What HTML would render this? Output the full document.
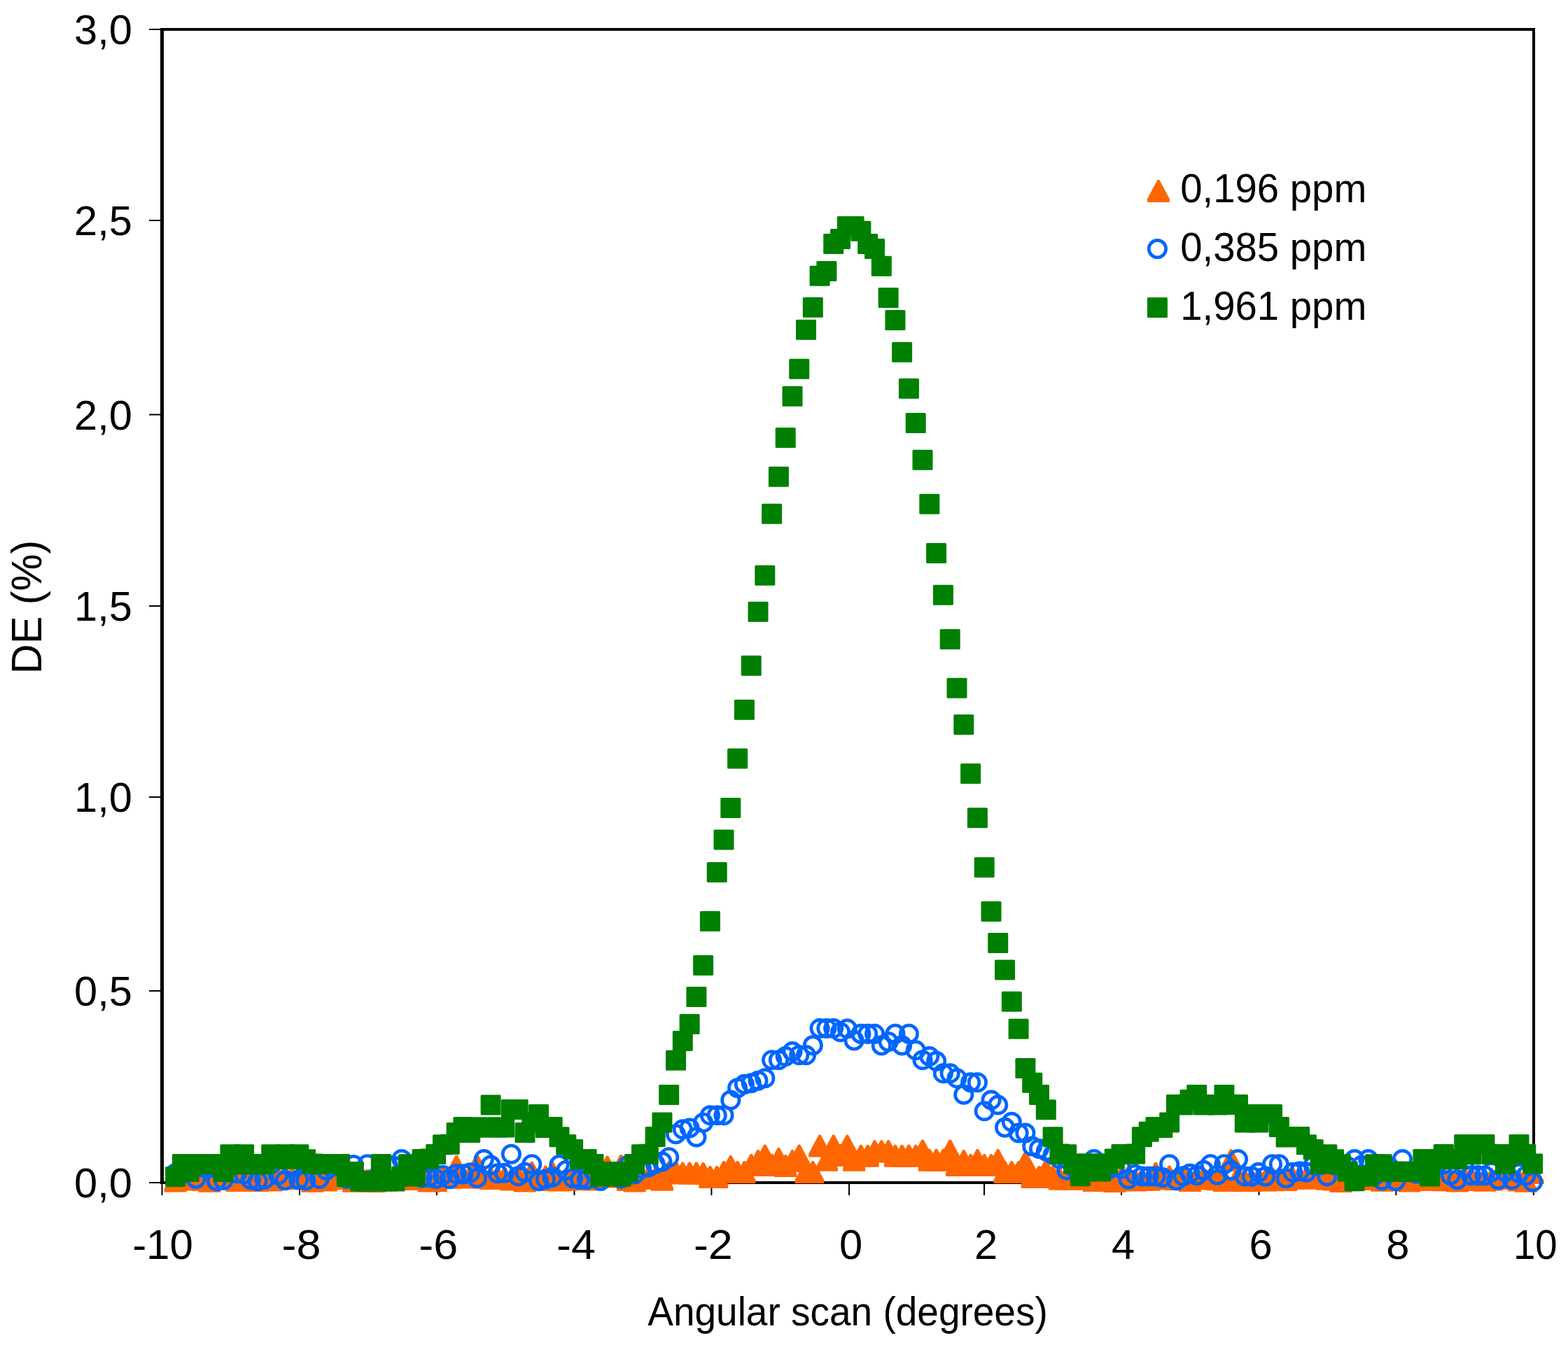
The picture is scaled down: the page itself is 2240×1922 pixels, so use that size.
<!DOCTYPE html>
<html><head><meta charset="utf-8"><title>DE vs angular scan</title>
<style>html,body{margin:0;padding:0;background:#fff;}svg{display:block;}</style></head>
<body>
<svg width="2240" height="1922" viewBox="0 0 2240 1922">
<rect width="2240" height="1922" fill="#fff"/>
<g fill="#000">
<rect x="229" y="40" width="5" height="1652"/>
<rect x="229" y="40" width="1964" height="4"/>
<rect x="2189" y="40" width="4" height="1652"/>
<rect x="229" y="1688" width="1964" height="4"/>
<rect x="213" y="1689.0" width="17" height="2"/>
<rect x="213" y="1415.0" width="17" height="2"/>
<rect x="213" y="1138.0" width="17" height="2"/>
<rect x="213" y="865.0" width="17" height="2"/>
<rect x="213" y="591.5" width="17" height="2"/>
<rect x="213" y="314.0" width="17" height="2"/>
<rect x="213" y="41.0" width="17" height="2"/>
<rect x="230.5" y="1690" width="2" height="18"/>
<rect x="427.0" y="1690" width="2" height="18"/>
<rect x="622.8" y="1690" width="2" height="18"/>
<rect x="819.5" y="1690" width="2" height="18"/>
<rect x="1015.4" y="1690" width="2" height="18"/>
<rect x="1212.0" y="1690" width="2" height="18"/>
<rect x="1405.0" y="1690" width="2" height="18"/>
<rect x="1601.0" y="1690" width="2" height="18"/>
<rect x="1797.5" y="1690" width="2" height="18"/>
<rect x="1993.4" y="1690" width="2" height="18"/>
<rect x="2189.8" y="1690" width="2" height="18"/>
</g>
<g fill="#FF6600"><path d="M249.2 1671.5H252.0L266.6 1698.8V1703.5H234.6V1698.8Z"/><path d="M259.0 1669.1H261.8L276.4 1696.4V1701.1H244.4V1696.4Z"/><path d="M268.8 1669.4H271.6L286.2 1696.7V1701.4H254.2V1696.7Z"/><path d="M278.6 1667.1H281.4L296.0 1694.4V1699.1H264.0V1694.4Z"/><path d="M288.4 1669.9H291.2L305.8 1697.2V1701.9H273.8V1697.2Z"/><path d="M298.2 1671.8H301.0L315.6 1699.1V1703.8H283.6V1699.1Z"/><path d="M307.9 1666.1H310.7L325.3 1693.4V1698.1H293.3V1693.4Z"/><path d="M317.7 1665.4H320.5L335.1 1692.7V1697.4H303.1V1692.7Z"/><path d="M327.5 1665.2H330.3L344.9 1692.5V1697.2H312.9V1692.5Z"/><path d="M337.3 1670.9H340.1L354.7 1698.2V1702.9H322.7V1698.2Z"/><path d="M347.1 1668.5H349.9L364.5 1695.8V1700.5H332.5V1695.8Z"/><path d="M356.9 1666.9H359.7L374.3 1694.2V1698.9H342.3V1694.2Z"/><path d="M366.7 1670.9H369.5L384.1 1698.2V1702.9H352.1V1698.2Z"/><path d="M376.5 1666.6H379.3L393.9 1693.9V1698.6H361.9V1693.9Z"/><path d="M386.3 1670.4H389.1L403.7 1697.7V1702.4H371.7V1697.7Z"/><path d="M396.1 1667.7H398.9L413.5 1695.0V1699.7H381.5V1695.0Z"/><path d="M405.9 1665.0H408.7L423.3 1692.3V1697.0H391.3V1692.3Z"/><path d="M415.7 1668.3H418.5L433.1 1695.6V1700.3H401.1V1695.6Z"/><path d="M425.5 1665.5H428.3L442.9 1692.8V1697.5H410.9V1692.8Z"/><path d="M435.3 1666.9H438.1L452.7 1694.2V1698.9H420.7V1694.2Z"/><path d="M445.0 1671.7H447.8L462.4 1699.0V1703.7H430.4V1699.0Z"/><path d="M454.8 1666.7H457.6L472.2 1694.0V1698.7H440.2V1694.0Z"/><path d="M464.6 1670.6H467.4L482.0 1697.9V1702.6H450.0V1697.9Z"/><path d="M474.4 1668.1H477.2L491.8 1695.4V1700.1H459.8V1695.4Z"/><path d="M484.2 1665.9H487.0L501.6 1693.2V1697.9H469.6V1693.2Z"/><path d="M494.0 1667.9H496.8L511.4 1695.2V1699.9H479.4V1695.2Z"/><path d="M503.8 1671.8H506.6L521.2 1699.1V1703.8H489.2V1699.1Z"/><path d="M513.6 1671.2H516.4L531.0 1698.5V1703.2H499.0V1698.5Z"/><path d="M523.4 1671.0H526.2L540.8 1698.3V1703.0H508.8V1698.3Z"/><path d="M533.2 1671.9H536.0L550.6 1699.2V1703.9H518.6V1699.2Z"/><path d="M543.0 1670.4H545.8L560.4 1697.7V1702.4H528.4V1697.7Z"/><path d="M552.8 1665.5H555.6L570.2 1692.8V1697.5H538.2V1692.8Z"/><path d="M562.6 1666.7H565.4L580.0 1694.0V1698.7H548.0V1694.0Z"/><path d="M572.4 1668.2H575.2L589.8 1695.5V1700.2H557.8V1695.5Z"/><path d="M582.1 1669.0H584.9L599.5 1696.3V1701.0H567.5V1696.3Z"/><path d="M591.9 1666.1H594.7L609.3 1693.4V1698.1H577.3V1693.4Z"/><path d="M601.7 1666.7H604.5L619.1 1694.0V1698.7H587.1V1694.0Z"/><path d="M611.5 1671.6H614.3L628.9 1698.9V1703.6H596.9V1698.9Z"/><path d="M621.3 1671.2H624.1L638.7 1698.5V1703.2H606.7V1698.5Z"/><path d="M631.1 1665.7H633.9L648.5 1693.0V1697.7H616.5V1693.0Z"/><path d="M640.9 1666.7H643.7L658.3 1694.0V1698.7H626.3V1694.0Z"/><path d="M650.7 1650.7H653.5L668.1 1678.0V1682.7H636.1V1678.0Z"/><path d="M660.5 1666.2H663.3L677.9 1693.5V1698.2H645.9V1693.5Z"/><path d="M670.3 1666.6H673.1L687.7 1693.9V1698.6H655.7V1693.9Z"/><path d="M680.1 1649.2H682.9L697.5 1676.5V1681.2H665.5V1676.5Z"/><path d="M689.9 1666.4H692.7L707.3 1693.7V1698.4H675.3V1693.7Z"/><path d="M699.7 1668.1H702.5L717.1 1695.4V1700.1H685.1V1695.4Z"/><path d="M709.5 1667.6H712.3L726.9 1694.9V1699.6H694.9V1694.9Z"/><path d="M719.2 1667.5H722.0L736.6 1694.8V1699.5H704.6V1694.8Z"/><path d="M729.0 1669.6H731.8L746.4 1696.9V1701.6H714.4V1696.9Z"/><path d="M738.8 1666.0H741.6L756.2 1693.3V1698.0H724.2V1693.3Z"/><path d="M748.6 1671.4H751.4L766.0 1698.7V1703.4H734.0V1698.7Z"/><path d="M758.4 1659.4H761.2L775.8 1686.7V1691.4H743.8V1686.7Z"/><path d="M768.2 1670.1H771.0L785.6 1697.4V1702.1H753.6V1697.4Z"/><path d="M778.0 1665.5H780.8L795.4 1692.8V1697.5H763.4V1692.8Z"/><path d="M787.8 1659.4H790.6L805.2 1686.7V1691.4H773.2V1686.7Z"/><path d="M797.6 1670.6H800.4L815.0 1697.9V1702.6H783.0V1697.9Z"/><path d="M807.4 1669.8H810.2L824.8 1697.1V1701.8H792.8V1697.1Z"/><path d="M817.2 1667.9H820.0L834.6 1695.2V1699.9H802.6V1695.2Z"/><path d="M827.0 1669.0H829.8L844.4 1696.3V1701.0H812.4V1696.3Z"/><path d="M836.8 1669.1H839.6L854.2 1696.4V1701.1H822.2V1696.4Z"/><path d="M846.6 1669.5H849.4L864.0 1696.8V1701.5H832.0V1696.8Z"/><path d="M856.4 1665.0H859.2L873.8 1692.3V1697.0H841.8V1692.3Z"/><path d="M866.1 1651.4H868.9L883.5 1678.7V1683.4H851.5V1678.7Z"/><path d="M875.9 1665.6H878.7L893.3 1692.9V1697.6H861.3V1692.9Z"/><path d="M885.7 1650.0H888.5L903.1 1677.3V1682.0H871.1V1677.3Z"/><path d="M895.5 1669.9H898.3L912.9 1697.2V1701.9H880.9V1697.2Z"/><path d="M905.3 1671.4H908.1L922.7 1698.7V1703.4H890.7V1698.7Z"/><path d="M915.1 1667.1H917.9L932.5 1694.4V1699.1H900.5V1694.4Z"/><path d="M924.9 1666.2H927.7L942.3 1693.5V1698.2H910.3V1693.5Z"/><path d="M934.7 1668.1H937.5L952.1 1695.4V1700.1H920.1V1695.4Z"/><path d="M944.5 1669.7H947.3L961.9 1697.0V1701.7H929.9V1697.0Z"/><path d="M954.3 1659.0H957.1L971.7 1686.3V1691.0H939.7V1686.3Z"/><path d="M964.1 1659.0H966.9L981.5 1686.3V1691.0H949.5V1686.3Z"/><path d="M973.9 1660.6H976.7L991.3 1687.9V1692.6H959.3V1687.9Z"/><path d="M983.7 1660.6H986.5L1001.1 1687.9V1692.6H969.1V1687.9Z"/><path d="M993.5 1660.6H996.3L1010.9 1687.9V1692.6H978.9V1687.9Z"/><path d="M1003.2 1661.0H1006.0L1020.6 1688.3V1693.0H988.6V1688.3Z"/><path d="M1013.0 1666.0H1015.8L1030.4 1693.3V1698.0H998.4V1693.3Z"/><path d="M1022.8 1666.0H1025.6L1040.2 1693.3V1698.0H1008.2V1693.3Z"/><path d="M1032.6 1659.0H1035.4L1050.0 1686.3V1691.0H1018.0V1686.3Z"/><path d="M1042.4 1651.0H1045.2L1059.8 1678.3V1683.0H1027.8V1678.3Z"/><path d="M1052.2 1659.0H1055.0L1069.6 1686.3V1691.0H1037.6V1686.3Z"/><path d="M1062.0 1659.0H1064.8L1079.4 1686.3V1691.0H1047.4V1686.3Z"/><path d="M1071.8 1649.0H1074.6L1089.2 1676.3V1681.0H1057.2V1676.3Z"/><path d="M1081.6 1643.0H1084.4L1099.0 1670.3V1675.0H1067.0V1670.3Z"/><path d="M1091.4 1635.4H1094.2L1108.8 1662.7V1667.4H1076.8V1662.7Z"/><path d="M1101.2 1649.0H1104.0L1118.6 1676.3V1681.0H1086.6V1676.3Z"/><path d="M1111.0 1640.0H1113.8L1128.4 1667.3V1672.0H1096.4V1667.3Z"/><path d="M1120.8 1650.0H1123.6L1138.2 1677.3V1682.0H1106.2V1677.3Z"/><path d="M1130.6 1643.0H1133.4L1148.0 1670.3V1675.0H1116.0V1670.3Z"/><path d="M1140.3 1635.4H1143.1L1157.7 1662.7V1667.4H1125.7V1662.7Z"/><path d="M1150.1 1659.0H1152.9L1167.5 1686.3V1691.0H1135.5V1686.3Z"/><path d="M1159.9 1659.0H1162.7L1177.3 1686.3V1691.0H1145.3V1686.3Z"/><path d="M1169.7 1621.5H1172.5L1187.1 1648.8V1653.5H1155.1V1648.8Z"/><path d="M1179.5 1641.8H1182.3L1196.9 1669.1V1673.8H1164.9V1669.1Z"/><path d="M1189.3 1621.5H1192.1L1206.7 1648.8V1653.5H1174.7V1648.8Z"/><path d="M1199.1 1635.0H1201.9L1216.5 1662.3V1667.0H1184.5V1662.3Z"/><path d="M1208.9 1621.5H1211.7L1226.3 1648.8V1653.5H1194.3V1648.8Z"/><path d="M1218.7 1641.8H1221.5L1236.1 1669.1V1673.8H1204.1V1669.1Z"/><path d="M1228.5 1635.8H1231.3L1245.9 1663.1V1667.8H1213.9V1663.1Z"/><path d="M1238.3 1635.8H1241.1L1255.7 1663.1V1667.8H1223.7V1663.1Z"/><path d="M1248.1 1629.2H1250.9L1265.5 1656.5V1661.2H1233.5V1656.5Z"/><path d="M1257.9 1629.2H1260.7L1275.3 1656.5V1661.2H1243.3V1656.5Z"/><path d="M1267.7 1629.2H1270.5L1285.1 1656.5V1661.2H1253.1V1656.5Z"/><path d="M1277.5 1635.8H1280.3L1294.9 1663.1V1667.8H1262.9V1663.1Z"/><path d="M1287.2 1635.8H1290.0L1304.6 1663.1V1667.8H1272.6V1663.1Z"/><path d="M1297.0 1635.4H1299.8L1314.4 1662.7V1667.4H1282.4V1662.7Z"/><path d="M1306.8 1635.8H1309.6L1324.2 1663.1V1667.8H1292.2V1663.1Z"/><path d="M1316.6 1628.5H1319.4L1334.0 1655.8V1660.5H1302.0V1655.8Z"/><path d="M1326.4 1641.8H1329.2L1343.8 1669.1V1673.8H1311.8V1669.1Z"/><path d="M1336.2 1641.8H1339.0L1353.6 1669.1V1673.8H1321.6V1669.1Z"/><path d="M1346.0 1641.8H1348.8L1363.4 1669.1V1673.8H1331.4V1669.1Z"/><path d="M1355.8 1628.5H1358.6L1373.2 1655.8V1660.5H1341.2V1655.8Z"/><path d="M1365.6 1649.0H1368.4L1383.0 1676.3V1681.0H1351.0V1676.3Z"/><path d="M1375.4 1643.0H1378.2L1392.8 1670.3V1675.0H1360.8V1670.3Z"/><path d="M1385.2 1649.0H1388.0L1402.6 1676.3V1681.0H1370.6V1676.3Z"/><path d="M1395.0 1642.0H1397.8L1412.4 1669.3V1674.0H1380.4V1669.3Z"/><path d="M1404.8 1649.0H1407.6L1422.2 1676.3V1681.0H1390.2V1676.3Z"/><path d="M1414.6 1649.0H1417.4L1432.0 1676.3V1681.0H1400.0V1676.3Z"/><path d="M1424.3 1642.0H1427.1L1441.7 1669.3V1674.0H1409.7V1669.3Z"/><path d="M1434.1 1659.0H1436.9L1451.5 1686.3V1691.0H1419.5V1686.3Z"/><path d="M1443.9 1659.0H1446.7L1461.3 1686.3V1691.0H1429.3V1686.3Z"/><path d="M1453.7 1659.0H1456.5L1471.1 1686.3V1691.0H1439.1V1686.3Z"/><path d="M1463.5 1645.0H1466.3L1480.9 1672.3V1677.0H1448.9V1672.3Z"/><path d="M1473.3 1666.0H1476.1L1490.7 1693.3V1698.0H1458.7V1693.3Z"/><path d="M1483.1 1666.0H1485.9L1500.5 1693.3V1698.0H1468.5V1693.3Z"/><path d="M1492.9 1656.5H1495.7L1510.3 1683.8V1688.5H1478.3V1683.8Z"/><path d="M1502.7 1665.7H1505.5L1520.1 1693.0V1697.7H1488.1V1693.0Z"/><path d="M1512.5 1668.6H1515.3L1529.9 1695.9V1700.6H1497.9V1695.9Z"/><path d="M1522.3 1668.7H1525.1L1539.7 1696.0V1700.7H1507.7V1696.0Z"/><path d="M1532.1 1667.9H1534.9L1549.5 1695.2V1699.9H1517.5V1695.2Z"/><path d="M1541.9 1666.4H1544.7L1559.3 1693.7V1698.4H1527.3V1693.7Z"/><path d="M1551.7 1668.7H1554.5L1569.1 1696.0V1700.7H1537.1V1696.0Z"/><path d="M1561.4 1671.0H1564.2L1578.8 1698.3V1703.0H1546.8V1698.3Z"/><path d="M1571.2 1670.7H1574.0L1588.6 1698.0V1702.7H1556.6V1698.0Z"/><path d="M1581.0 1667.2H1583.8L1598.4 1694.5V1699.2H1566.4V1694.5Z"/><path d="M1590.8 1672.0H1593.6L1608.2 1699.3V1704.0H1576.2V1699.3Z"/><path d="M1600.6 1666.7H1603.4L1618.0 1694.0V1698.7H1586.0V1694.0Z"/><path d="M1610.4 1665.7H1613.2L1627.8 1693.0V1697.7H1595.8V1693.0Z"/><path d="M1620.2 1670.5H1623.0L1637.6 1697.8V1702.5H1605.6V1697.8Z"/><path d="M1630.0 1669.8H1632.8L1647.4 1697.1V1701.8H1615.4V1697.1Z"/><path d="M1639.8 1669.8H1642.6L1657.2 1697.1V1701.8H1625.2V1697.1Z"/><path d="M1649.6 1660.8H1652.4L1667.0 1688.1V1692.8H1635.0V1688.1Z"/><path d="M1659.4 1668.5H1662.2L1676.8 1695.8V1700.5H1644.8V1695.8Z"/><path d="M1669.2 1665.5H1672.0L1686.6 1692.8V1697.5H1654.6V1692.8Z"/><path d="M1679.0 1668.9H1681.8L1696.4 1696.2V1700.9H1664.4V1696.2Z"/><path d="M1688.8 1666.0H1691.6L1706.2 1693.3V1698.0H1674.2V1693.3Z"/><path d="M1698.5 1670.9H1701.3L1715.9 1698.2V1702.9H1683.9V1698.2Z"/><path d="M1708.3 1665.7H1711.1L1725.7 1693.0V1697.7H1693.7V1693.0Z"/><path d="M1718.1 1668.2H1720.9L1735.5 1695.5V1700.2H1703.5V1695.5Z"/><path d="M1727.9 1668.3H1730.7L1745.3 1695.6V1700.3H1713.3V1695.6Z"/><path d="M1737.7 1669.2H1740.5L1755.1 1696.5V1701.2H1723.1V1696.5Z"/><path d="M1747.5 1670.9H1750.3L1764.9 1698.2V1702.9H1732.9V1698.2Z"/><path d="M1757.3 1642.0H1760.1L1774.7 1669.3V1674.0H1742.7V1669.3Z"/><path d="M1767.1 1666.2H1769.9L1784.5 1693.5V1698.2H1752.5V1693.5Z"/><path d="M1776.9 1671.3H1779.7L1794.3 1698.6V1703.3H1762.3V1698.6Z"/><path d="M1786.7 1671.0H1789.5L1804.1 1698.3V1703.0H1772.1V1698.3Z"/><path d="M1796.5 1669.2H1799.3L1813.9 1696.5V1701.2H1781.9V1696.5Z"/><path d="M1806.3 1670.6H1809.1L1823.7 1697.9V1702.6H1791.7V1697.9Z"/><path d="M1816.1 1670.2H1818.9L1833.5 1697.5V1702.2H1801.5V1697.5Z"/><path d="M1825.9 1667.8H1828.7L1843.3 1695.1V1699.8H1811.3V1695.1Z"/><path d="M1835.7 1669.9H1838.5L1853.1 1697.2V1701.9H1821.1V1697.2Z"/><path d="M1845.4 1667.8H1848.2L1862.8 1695.1V1699.8H1830.8V1695.1Z"/><path d="M1855.2 1667.4H1858.0L1872.6 1694.7V1699.4H1840.6V1694.7Z"/><path d="M1865.0 1667.5H1867.8L1882.4 1694.8V1699.5H1850.4V1694.8Z"/><path d="M1874.8 1666.6H1877.6L1892.2 1693.9V1698.6H1860.2V1693.9Z"/><path d="M1884.6 1667.4H1887.4L1902.0 1694.7V1699.4H1870.0V1694.7Z"/><path d="M1894.4 1668.7H1897.2L1911.8 1696.0V1700.7H1879.8V1696.0Z"/><path d="M1904.2 1669.5H1907.0L1921.6 1696.8V1701.5H1889.6V1696.8Z"/><path d="M1914.0 1671.9H1916.8L1931.4 1699.2V1703.9H1899.4V1699.2Z"/><path d="M1923.8 1670.2H1926.6L1941.2 1697.5V1702.2H1909.2V1697.5Z"/><path d="M1933.6 1665.4H1936.4L1951.0 1692.7V1697.4H1919.0V1692.7Z"/><path d="M1943.4 1665.7H1946.2L1960.8 1693.0V1697.7H1928.8V1693.0Z"/><path d="M1953.2 1668.9H1956.0L1970.6 1696.2V1700.9H1938.6V1696.2Z"/><path d="M1963.0 1669.0H1965.8L1980.4 1696.3V1701.0H1948.4V1696.3Z"/><path d="M1972.8 1670.7H1975.6L1990.2 1698.0V1702.7H1958.2V1698.0Z"/><path d="M1982.5 1670.3H1985.3L1999.9 1697.6V1702.3H1967.9V1697.6Z"/><path d="M1992.3 1666.1H1995.1L2009.7 1693.4V1698.1H1977.7V1693.4Z"/><path d="M2002.1 1668.5H2004.9L2019.5 1695.8V1700.5H1987.5V1695.8Z"/><path d="M2011.9 1671.6H2014.7L2029.3 1698.9V1703.6H1997.3V1698.9Z"/><path d="M2021.7 1669.2H2024.5L2039.1 1696.5V1701.2H2007.1V1696.5Z"/><path d="M2031.5 1669.6H2034.3L2048.9 1696.9V1701.6H2016.9V1696.9Z"/><path d="M2041.3 1670.0H2044.1L2058.7 1697.3V1702.0H2026.7V1697.3Z"/><path d="M2051.1 1666.7H2053.9L2068.5 1694.0V1698.7H2036.5V1694.0Z"/><path d="M2060.9 1670.3H2063.7L2078.3 1697.6V1702.3H2046.3V1697.6Z"/><path d="M2070.7 1670.2H2073.5L2088.1 1697.5V1702.2H2056.1V1697.5Z"/><path d="M2080.5 1671.6H2083.3L2097.9 1698.9V1703.6H2065.9V1698.9Z"/><path d="M2090.3 1668.0H2093.1L2107.7 1695.3V1700.0H2075.7V1695.3Z"/><path d="M2100.1 1666.7H2102.9L2117.5 1694.0V1698.7H2085.5V1694.0Z"/><path d="M2109.9 1670.1H2112.7L2127.3 1697.4V1702.1H2095.3V1697.4Z"/><path d="M2119.6 1670.7H2122.4L2137.0 1698.0V1702.7H2105.0V1698.0Z"/><path d="M2129.4 1669.4H2132.2L2146.8 1696.7V1701.4H2114.8V1696.7Z"/><path d="M2139.2 1665.4H2142.0L2156.6 1692.7V1697.4H2124.6V1692.7Z"/><path d="M2149.0 1668.1H2151.8L2166.4 1695.4V1700.1H2134.4V1695.4Z"/><path d="M2158.8 1666.8H2161.6L2176.2 1694.1V1698.8H2144.2V1694.1Z"/><path d="M2168.6 1670.4H2171.4L2186.0 1697.7V1702.4H2154.0V1697.7Z"/><path d="M2178.4 1671.7H2181.2L2195.8 1699.0V1703.7H2163.8V1699.0Z"/><path d="M2188.2 1660.0H2191.0L2205.6 1687.3V1692.0H2173.6V1687.3Z"/></g>
<g fill="none" stroke="#0066FF" stroke-width="4.7"><circle cx="250.6" cy="1676.5" r="12.2"/><circle cx="260.4" cy="1677.0" r="12.2"/><circle cx="270.2" cy="1666.1" r="12.2"/><circle cx="280.0" cy="1684.4" r="12.2"/><circle cx="289.8" cy="1667.9" r="12.2"/><circle cx="299.6" cy="1668.9" r="12.2"/><circle cx="309.3" cy="1687.6" r="12.2"/><circle cx="319.1" cy="1686.5" r="12.2"/><circle cx="328.9" cy="1664.5" r="12.2"/><circle cx="338.7" cy="1676.6" r="12.2"/><circle cx="348.5" cy="1677.8" r="12.2"/><circle cx="358.3" cy="1685.8" r="12.2"/><circle cx="368.1" cy="1687.8" r="12.2"/><circle cx="377.9" cy="1685.3" r="12.2"/><circle cx="387.7" cy="1663.4" r="12.2"/><circle cx="397.5" cy="1679.1" r="12.2"/><circle cx="407.3" cy="1686.8" r="12.2"/><circle cx="417.1" cy="1668.5" r="12.2"/><circle cx="426.9" cy="1685.6" r="12.2"/><circle cx="436.7" cy="1686.8" r="12.2"/><circle cx="446.4" cy="1665.0" r="12.2"/><circle cx="456.2" cy="1684.5" r="12.2"/><circle cx="466.0" cy="1672.4" r="12.2"/><circle cx="475.8" cy="1666.4" r="12.2"/><circle cx="485.6" cy="1667.4" r="12.2"/><circle cx="495.4" cy="1684.5" r="12.2"/><circle cx="505.2" cy="1664.6" r="12.2"/><circle cx="515.0" cy="1685.2" r="12.2"/><circle cx="524.8" cy="1663.7" r="12.2"/><circle cx="534.6" cy="1684.4" r="12.2"/><circle cx="544.4" cy="1664.5" r="12.2"/><circle cx="554.2" cy="1664.8" r="12.2"/><circle cx="564.0" cy="1666.5" r="12.2"/><circle cx="573.8" cy="1656.5" r="12.2"/><circle cx="583.5" cy="1679.8" r="12.2"/><circle cx="593.3" cy="1676.8" r="12.2"/><circle cx="603.1" cy="1683.2" r="12.2"/><circle cx="612.9" cy="1682.4" r="12.2"/><circle cx="622.7" cy="1684.5" r="12.2"/><circle cx="632.5" cy="1679.2" r="12.2"/><circle cx="642.3" cy="1684.6" r="12.2"/><circle cx="652.1" cy="1677.6" r="12.2"/><circle cx="661.9" cy="1677.9" r="12.2"/><circle cx="671.7" cy="1675.7" r="12.2"/><circle cx="681.5" cy="1683.5" r="12.2"/><circle cx="691.3" cy="1656.5" r="12.2"/><circle cx="701.1" cy="1665.1" r="12.2"/><circle cx="710.9" cy="1676.8" r="12.2"/><circle cx="720.6" cy="1676.3" r="12.2"/><circle cx="730.4" cy="1649.2" r="12.2"/><circle cx="740.2" cy="1680.8" r="12.2"/><circle cx="750.0" cy="1675.2" r="12.2"/><circle cx="759.8" cy="1663.7" r="12.2"/><circle cx="769.6" cy="1687.6" r="12.2"/><circle cx="779.4" cy="1685.0" r="12.2"/><circle cx="789.2" cy="1682.4" r="12.2"/><circle cx="799.0" cy="1664.4" r="12.2"/><circle cx="808.8" cy="1672.4" r="12.2"/><circle cx="818.6" cy="1683.7" r="12.2"/><circle cx="828.4" cy="1685.4" r="12.2"/><circle cx="838.2" cy="1685.5" r="12.2"/><circle cx="848.0" cy="1674.5" r="12.2"/><circle cx="857.8" cy="1687.5" r="12.2"/><circle cx="867.5" cy="1678.4" r="12.2"/><circle cx="877.3" cy="1679.0" r="12.2"/><circle cx="887.1" cy="1684.1" r="12.2"/><circle cx="896.9" cy="1665.1" r="12.2"/><circle cx="906.7" cy="1678.0" r="12.2"/><circle cx="916.5" cy="1670.0" r="12.2"/><circle cx="926.3" cy="1668.0" r="12.2"/><circle cx="936.1" cy="1663.0" r="12.2"/><circle cx="945.9" cy="1660.0" r="12.2"/><circle cx="955.7" cy="1653.7" r="12.2"/><circle cx="965.5" cy="1620.7" r="12.2"/><circle cx="975.3" cy="1613.7" r="12.2"/><circle cx="985.1" cy="1612.0" r="12.2"/><circle cx="994.9" cy="1625.0" r="12.2"/><circle cx="1004.6" cy="1604.2" r="12.2"/><circle cx="1014.4" cy="1593.8" r="12.2"/><circle cx="1024.2" cy="1593.8" r="12.2"/><circle cx="1034.0" cy="1593.8" r="12.2"/><circle cx="1043.8" cy="1572.0" r="12.2"/><circle cx="1053.6" cy="1554.7" r="12.2"/><circle cx="1063.4" cy="1549.4" r="12.2"/><circle cx="1073.2" cy="1547.7" r="12.2"/><circle cx="1083.0" cy="1544.2" r="12.2"/><circle cx="1092.8" cy="1540.8" r="12.2"/><circle cx="1102.6" cy="1514.7" r="12.2"/><circle cx="1112.4" cy="1514.7" r="12.2"/><circle cx="1122.2" cy="1509.5" r="12.2"/><circle cx="1132.0" cy="1502.5" r="12.2"/><circle cx="1141.7" cy="1507.8" r="12.2"/><circle cx="1151.5" cy="1507.8" r="12.2"/><circle cx="1161.3" cy="1493.9" r="12.2"/><circle cx="1171.1" cy="1469.5" r="12.2"/><circle cx="1180.9" cy="1469.5" r="12.2"/><circle cx="1190.7" cy="1469.5" r="12.2"/><circle cx="1200.5" cy="1474.7" r="12.2"/><circle cx="1210.3" cy="1470.0" r="12.2"/><circle cx="1220.1" cy="1486.9" r="12.2"/><circle cx="1229.9" cy="1477.4" r="12.2"/><circle cx="1239.7" cy="1477.4" r="12.2"/><circle cx="1249.5" cy="1477.4" r="12.2"/><circle cx="1259.3" cy="1493.9" r="12.2"/><circle cx="1269.1" cy="1488.6" r="12.2"/><circle cx="1278.9" cy="1477.4" r="12.2"/><circle cx="1288.6" cy="1493.9" r="12.2"/><circle cx="1298.4" cy="1477.4" r="12.2"/><circle cx="1308.2" cy="1500.8" r="12.2"/><circle cx="1318.0" cy="1514.7" r="12.2"/><circle cx="1327.8" cy="1509.5" r="12.2"/><circle cx="1337.6" cy="1516.4" r="12.2"/><circle cx="1347.4" cy="1533.8" r="12.2"/><circle cx="1357.2" cy="1533.8" r="12.2"/><circle cx="1367.0" cy="1540.8" r="12.2"/><circle cx="1376.8" cy="1564.2" r="12.2"/><circle cx="1386.6" cy="1546.8" r="12.2"/><circle cx="1396.4" cy="1546.8" r="12.2"/><circle cx="1406.2" cy="1587.7" r="12.2"/><circle cx="1416.0" cy="1572.0" r="12.2"/><circle cx="1425.7" cy="1579.0" r="12.2"/><circle cx="1435.5" cy="1611.1" r="12.2"/><circle cx="1445.3" cy="1603.3" r="12.2"/><circle cx="1455.1" cy="1619.0" r="12.2"/><circle cx="1464.9" cy="1619.0" r="12.2"/><circle cx="1474.7" cy="1638.0" r="12.2"/><circle cx="1484.5" cy="1641.5" r="12.2"/><circle cx="1494.3" cy="1645.0" r="12.2"/><circle cx="1504.1" cy="1650.0" r="12.2"/><circle cx="1513.9" cy="1656.0" r="12.2"/><circle cx="1523.7" cy="1672.0" r="12.2"/><circle cx="1533.5" cy="1668.0" r="12.2"/><circle cx="1543.3" cy="1670.0" r="12.2"/><circle cx="1553.1" cy="1672.0" r="12.2"/><circle cx="1562.8" cy="1656.5" r="12.2"/><circle cx="1572.6" cy="1670.0" r="12.2"/><circle cx="1582.4" cy="1672.0" r="12.2"/><circle cx="1592.2" cy="1668.0" r="12.2"/><circle cx="1602.0" cy="1670.0" r="12.2"/><circle cx="1611.8" cy="1685.0" r="12.2"/><circle cx="1621.6" cy="1678.2" r="12.2"/><circle cx="1631.4" cy="1681.0" r="12.2"/><circle cx="1641.2" cy="1681.0" r="12.2"/><circle cx="1651.0" cy="1681.0" r="12.2"/><circle cx="1660.8" cy="1682.6" r="12.2"/><circle cx="1670.6" cy="1663.7" r="12.2"/><circle cx="1680.4" cy="1686.9" r="12.2"/><circle cx="1690.2" cy="1680.7" r="12.2"/><circle cx="1699.9" cy="1677.0" r="12.2"/><circle cx="1709.7" cy="1679.6" r="12.2"/><circle cx="1719.5" cy="1672.4" r="12.2"/><circle cx="1729.3" cy="1663.7" r="12.2"/><circle cx="1739.1" cy="1679.3" r="12.2"/><circle cx="1748.9" cy="1663.7" r="12.2"/><circle cx="1758.7" cy="1672.4" r="12.2"/><circle cx="1768.5" cy="1656.5" r="12.2"/><circle cx="1778.3" cy="1681.0" r="12.2"/><circle cx="1788.1" cy="1681.1" r="12.2"/><circle cx="1797.9" cy="1675.3" r="12.2"/><circle cx="1807.7" cy="1681.1" r="12.2"/><circle cx="1817.5" cy="1663.7" r="12.2"/><circle cx="1827.3" cy="1663.7" r="12.2"/><circle cx="1837.1" cy="1683.8" r="12.2"/><circle cx="1846.8" cy="1675.3" r="12.2"/><circle cx="1856.6" cy="1673.8" r="12.2"/><circle cx="1866.4" cy="1675.1" r="12.2"/><circle cx="1876.2" cy="1665.0" r="12.2"/><circle cx="1886.0" cy="1665.0" r="12.2"/><circle cx="1895.8" cy="1680.7" r="12.2"/><circle cx="1905.6" cy="1665.0" r="12.2"/><circle cx="1915.4" cy="1665.0" r="12.2"/><circle cx="1925.2" cy="1666.7" r="12.2"/><circle cx="1935.0" cy="1656.5" r="12.2"/><circle cx="1944.8" cy="1665.3" r="12.2"/><circle cx="1954.6" cy="1656.5" r="12.2"/><circle cx="1964.4" cy="1679.8" r="12.2"/><circle cx="1974.2" cy="1686.6" r="12.2"/><circle cx="1983.9" cy="1666.6" r="12.2"/><circle cx="1993.7" cy="1687.6" r="12.2"/><circle cx="2003.5" cy="1656.5" r="12.2"/><circle cx="2013.3" cy="1674.4" r="12.2"/><circle cx="2023.1" cy="1677.2" r="12.2"/><circle cx="2032.9" cy="1664.7" r="12.2"/><circle cx="2042.7" cy="1675.7" r="12.2"/><circle cx="2052.5" cy="1663.1" r="12.2"/><circle cx="2062.3" cy="1663.9" r="12.2"/><circle cx="2072.1" cy="1679.4" r="12.2"/><circle cx="2081.9" cy="1685.6" r="12.2"/><circle cx="2091.7" cy="1668.4" r="12.2"/><circle cx="2101.5" cy="1679.8" r="12.2"/><circle cx="2111.3" cy="1679.6" r="12.2"/><circle cx="2121.0" cy="1679.9" r="12.2"/><circle cx="2130.8" cy="1674.7" r="12.2"/><circle cx="2140.6" cy="1685.6" r="12.2"/><circle cx="2150.4" cy="1674.7" r="12.2"/><circle cx="2160.2" cy="1685.8" r="12.2"/><circle cx="2170.0" cy="1676.5" r="12.2"/><circle cx="2179.8" cy="1680.0" r="12.2"/><circle cx="2189.6" cy="1689.0" r="12.2"/></g>
<g fill="#008000"><rect x="236.1" y="1667.1" width="29" height="29" rx="1.5"/><rect x="245.9" y="1649.1" width="29" height="29" rx="1.5"/><rect x="255.7" y="1659.9" width="29" height="29" rx="1.5"/><rect x="265.5" y="1649.0" width="29" height="29" rx="1.5"/><rect x="275.3" y="1649.5" width="29" height="29" rx="1.5"/><rect x="285.1" y="1649.0" width="29" height="29" rx="1.5"/><rect x="294.8" y="1649.5" width="29" height="29" rx="1.5"/><rect x="304.6" y="1659.9" width="29" height="29" rx="1.5"/><rect x="314.4" y="1635.3" width="29" height="29" rx="1.5"/><rect x="324.2" y="1649.5" width="29" height="29" rx="1.5"/><rect x="334.0" y="1635.3" width="29" height="29" rx="1.5"/><rect x="343.8" y="1649.2" width="29" height="29" rx="1.5"/><rect x="353.6" y="1649.2" width="29" height="29" rx="1.5"/><rect x="363.4" y="1649.2" width="29" height="29" rx="1.5"/><rect x="373.2" y="1635.3" width="29" height="29" rx="1.5"/><rect x="383.0" y="1642.0" width="29" height="29" rx="1.5"/><rect x="392.8" y="1635.3" width="29" height="29" rx="1.5"/><rect x="402.6" y="1642.0" width="29" height="29" rx="1.5"/><rect x="412.4" y="1635.3" width="29" height="29" rx="1.5"/><rect x="422.2" y="1642.3" width="29" height="29" rx="1.5"/><rect x="431.9" y="1648.5" width="29" height="29" rx="1.5"/><rect x="441.7" y="1649.1" width="29" height="29" rx="1.5"/><rect x="451.5" y="1649.1" width="29" height="29" rx="1.5"/><rect x="461.3" y="1649.1" width="29" height="29" rx="1.5"/><rect x="471.1" y="1649.1" width="29" height="29" rx="1.5"/><rect x="480.9" y="1666.9" width="29" height="29" rx="1.5"/><rect x="490.7" y="1660.0" width="29" height="29" rx="1.5"/><rect x="500.5" y="1673.5" width="29" height="29" rx="1.5"/><rect x="510.3" y="1673.7" width="29" height="29" rx="1.5"/><rect x="520.1" y="1673.5" width="29" height="29" rx="1.5"/><rect x="529.9" y="1649.1" width="29" height="29" rx="1.5"/><rect x="539.7" y="1673.5" width="29" height="29" rx="1.5"/><rect x="549.5" y="1673.5" width="29" height="29" rx="1.5"/><rect x="559.3" y="1666.5" width="29" height="29" rx="1.5"/><rect x="569.0" y="1649.3" width="29" height="29" rx="1.5"/><rect x="578.8" y="1666.6" width="29" height="29" rx="1.5"/><rect x="588.6" y="1642.0" width="29" height="29" rx="1.5"/><rect x="598.4" y="1641.5" width="29" height="29" rx="1.5"/><rect x="608.2" y="1635.1" width="29" height="29" rx="1.5"/><rect x="618.0" y="1621.3" width="29" height="29" rx="1.5"/><rect x="627.8" y="1620.8" width="29" height="29" rx="1.5"/><rect x="637.6" y="1603.9" width="29" height="29" rx="1.5"/><rect x="647.4" y="1596.1" width="29" height="29" rx="1.5"/><rect x="657.2" y="1604.0" width="29" height="29" rx="1.5"/><rect x="667.0" y="1596.5" width="29" height="29" rx="1.5"/><rect x="676.8" y="1596.5" width="29" height="29" rx="1.5"/><rect x="686.6" y="1564.5" width="29" height="29" rx="1.5"/><rect x="696.4" y="1596.5" width="29" height="29" rx="1.5"/><rect x="706.1" y="1596.5" width="29" height="29" rx="1.5"/><rect x="715.9" y="1571.1" width="29" height="29" rx="1.5"/><rect x="725.7" y="1571.1" width="29" height="29" rx="1.5"/><rect x="735.5" y="1604.1" width="29" height="29" rx="1.5"/><rect x="745.3" y="1589.5" width="29" height="29" rx="1.5"/><rect x="755.1" y="1578.1" width="29" height="29" rx="1.5"/><rect x="764.9" y="1596.9" width="29" height="29" rx="1.5"/><rect x="774.7" y="1596.1" width="29" height="29" rx="1.5"/><rect x="784.5" y="1610.3" width="29" height="29" rx="1.5"/><rect x="794.3" y="1621.1" width="29" height="29" rx="1.5"/><rect x="804.1" y="1628.0" width="29" height="29" rx="1.5"/><rect x="813.9" y="1642.1" width="29" height="29" rx="1.5"/><rect x="823.7" y="1642.0" width="29" height="29" rx="1.5"/><rect x="833.5" y="1649.0" width="29" height="29" rx="1.5"/><rect x="843.3" y="1666.8" width="29" height="29" rx="1.5"/><rect x="853.0" y="1659.9" width="29" height="29" rx="1.5"/><rect x="862.8" y="1659.9" width="29" height="29" rx="1.5"/><rect x="872.6" y="1666.8" width="29" height="29" rx="1.5"/><rect x="882.4" y="1659.9" width="29" height="29" rx="1.5"/><rect x="892.2" y="1649.0" width="29" height="29" rx="1.5"/><rect x="902.0" y="1635.2" width="29" height="29" rx="1.5"/><rect x="911.8" y="1634.8" width="29" height="29" rx="1.5"/><rect x="921.6" y="1610.1" width="29" height="29" rx="1.5"/><rect x="931.4" y="1589.5" width="29" height="29" rx="1.5"/><rect x="941.2" y="1549.9" width="29" height="29" rx="1.5"/><rect x="951.0" y="1500.8" width="29" height="29" rx="1.5"/><rect x="960.8" y="1472.9" width="29" height="29" rx="1.5"/><rect x="970.6" y="1448.9" width="29" height="29" rx="1.5"/><rect x="980.4" y="1410.0" width="29" height="29" rx="1.5"/><rect x="990.1" y="1364.9" width="29" height="29" rx="1.5"/><rect x="999.9" y="1301.9" width="29" height="29" rx="1.5"/><rect x="1009.7" y="1231.9" width="29" height="29" rx="1.5"/><rect x="1019.5" y="1185.6" width="29" height="29" rx="1.5"/><rect x="1029.3" y="1140.0" width="29" height="29" rx="1.5"/><rect x="1039.1" y="1069.5" width="29" height="29" rx="1.5"/><rect x="1048.9" y="999.7" width="29" height="29" rx="1.5"/><rect x="1058.7" y="936.7" width="29" height="29" rx="1.5"/><rect x="1068.5" y="859.8" width="29" height="29" rx="1.5"/><rect x="1078.3" y="807.8" width="29" height="29" rx="1.5"/><rect x="1088.1" y="719.8" width="29" height="29" rx="1.5"/><rect x="1097.9" y="666.8" width="29" height="29" rx="1.5"/><rect x="1107.7" y="611.0" width="29" height="29" rx="1.5"/><rect x="1117.5" y="551.8" width="29" height="29" rx="1.5"/><rect x="1127.2" y="512.7" width="29" height="29" rx="1.5"/><rect x="1137.0" y="456.8" width="29" height="29" rx="1.5"/><rect x="1146.8" y="424.8" width="29" height="29" rx="1.5"/><rect x="1156.6" y="379.8" width="29" height="29" rx="1.5"/><rect x="1166.4" y="373.1" width="29" height="29" rx="1.5"/><rect x="1176.2" y="334.0" width="29" height="29" rx="1.5"/><rect x="1186.0" y="327.0" width="29" height="29" rx="1.5"/><rect x="1195.8" y="309.0" width="29" height="29" rx="1.5"/><rect x="1205.6" y="309.0" width="29" height="29" rx="1.5"/><rect x="1215.4" y="315.8" width="29" height="29" rx="1.5"/><rect x="1225.2" y="334.0" width="29" height="29" rx="1.5"/><rect x="1235.0" y="340.9" width="29" height="29" rx="1.5"/><rect x="1244.8" y="365.8" width="29" height="29" rx="1.5"/><rect x="1254.6" y="411.1" width="29" height="29" rx="1.5"/><rect x="1264.4" y="442.9" width="29" height="29" rx="1.5"/><rect x="1274.1" y="488.8" width="29" height="29" rx="1.5"/><rect x="1283.9" y="540.8" width="29" height="29" rx="1.5"/><rect x="1293.7" y="589.9" width="29" height="29" rx="1.5"/><rect x="1303.5" y="642.8" width="29" height="29" rx="1.5"/><rect x="1313.3" y="705.8" width="29" height="29" rx="1.5"/><rect x="1323.1" y="775.9" width="29" height="29" rx="1.5"/><rect x="1332.9" y="835.7" width="29" height="29" rx="1.5"/><rect x="1342.7" y="898.9" width="29" height="29" rx="1.5"/><rect x="1352.5" y="968.8" width="29" height="29" rx="1.5"/><rect x="1362.3" y="1020.9" width="29" height="29" rx="1.5"/><rect x="1372.1" y="1090.9" width="29" height="29" rx="1.5"/><rect x="1381.9" y="1154.3" width="29" height="29" rx="1.5"/><rect x="1391.7" y="1224.9" width="29" height="29" rx="1.5"/><rect x="1401.5" y="1287.9" width="29" height="29" rx="1.5"/><rect x="1411.2" y="1332.9" width="29" height="29" rx="1.5"/><rect x="1421.0" y="1371.6" width="29" height="29" rx="1.5"/><rect x="1430.8" y="1416.7" width="29" height="29" rx="1.5"/><rect x="1440.6" y="1455.7" width="29" height="29" rx="1.5"/><rect x="1450.4" y="1511.9" width="29" height="29" rx="1.5"/><rect x="1460.2" y="1532.8" width="29" height="29" rx="1.5"/><rect x="1470.0" y="1550.0" width="29" height="29" rx="1.5"/><rect x="1479.8" y="1571.3" width="29" height="29" rx="1.5"/><rect x="1489.6" y="1610.2" width="29" height="29" rx="1.5"/><rect x="1499.4" y="1634.5" width="29" height="29" rx="1.5"/><rect x="1509.2" y="1635.2" width="29" height="29" rx="1.5"/><rect x="1519.0" y="1648.6" width="29" height="29" rx="1.5"/><rect x="1528.8" y="1666.2" width="29" height="29" rx="1.5"/><rect x="1538.6" y="1648.5" width="29" height="29" rx="1.5"/><rect x="1548.3" y="1648.5" width="29" height="29" rx="1.5"/><rect x="1558.1" y="1659.4" width="29" height="29" rx="1.5"/><rect x="1567.9" y="1648.5" width="29" height="29" rx="1.5"/><rect x="1577.7" y="1641.5" width="29" height="29" rx="1.5"/><rect x="1587.5" y="1635.1" width="29" height="29" rx="1.5"/><rect x="1597.3" y="1635.1" width="29" height="29" rx="1.5"/><rect x="1607.1" y="1634.5" width="29" height="29" rx="1.5"/><rect x="1616.9" y="1610.2" width="29" height="29" rx="1.5"/><rect x="1626.7" y="1602.7" width="29" height="29" rx="1.5"/><rect x="1636.5" y="1596.0" width="29" height="29" rx="1.5"/><rect x="1646.3" y="1596.9" width="29" height="29" rx="1.5"/><rect x="1656.1" y="1589.5" width="29" height="29" rx="1.5"/><rect x="1665.9" y="1564.0" width="29" height="29" rx="1.5"/><rect x="1675.7" y="1564.5" width="29" height="29" rx="1.5"/><rect x="1685.4" y="1557.0" width="29" height="29" rx="1.5"/><rect x="1695.2" y="1550.1" width="29" height="29" rx="1.5"/><rect x="1705.0" y="1564.5" width="29" height="29" rx="1.5"/><rect x="1714.8" y="1564.0" width="29" height="29" rx="1.5"/><rect x="1724.6" y="1564.5" width="29" height="29" rx="1.5"/><rect x="1734.4" y="1550.1" width="29" height="29" rx="1.5"/><rect x="1744.2" y="1564.0" width="29" height="29" rx="1.5"/><rect x="1754.0" y="1564.0" width="29" height="29" rx="1.5"/><rect x="1763.8" y="1589.5" width="29" height="29" rx="1.5"/><rect x="1773.6" y="1578.0" width="29" height="29" rx="1.5"/><rect x="1783.4" y="1589.5" width="29" height="29" rx="1.5"/><rect x="1793.2" y="1578.0" width="29" height="29" rx="1.5"/><rect x="1803.0" y="1577.9" width="29" height="29" rx="1.5"/><rect x="1812.8" y="1595.9" width="29" height="29" rx="1.5"/><rect x="1822.6" y="1610.5" width="29" height="29" rx="1.5"/><rect x="1832.3" y="1610.1" width="29" height="29" rx="1.5"/><rect x="1842.1" y="1610.1" width="29" height="29" rx="1.5"/><rect x="1851.9" y="1621.2" width="29" height="29" rx="1.5"/><rect x="1861.7" y="1628.1" width="29" height="29" rx="1.5"/><rect x="1871.5" y="1648.7" width="29" height="29" rx="1.5"/><rect x="1881.3" y="1635.2" width="29" height="29" rx="1.5"/><rect x="1891.1" y="1642.2" width="29" height="29" rx="1.5"/><rect x="1900.9" y="1649.2" width="29" height="29" rx="1.5"/><rect x="1910.7" y="1659.8" width="29" height="29" rx="1.5"/><rect x="1920.5" y="1673.3" width="29" height="29" rx="1.5"/><rect x="1930.3" y="1666.6" width="29" height="29" rx="1.5"/><rect x="1940.1" y="1666.5" width="29" height="29" rx="1.5"/><rect x="1949.9" y="1649.2" width="29" height="29" rx="1.5"/><rect x="1959.7" y="1649.2" width="29" height="29" rx="1.5"/><rect x="1969.4" y="1659.8" width="29" height="29" rx="1.5"/><rect x="1979.2" y="1659.8" width="29" height="29" rx="1.5"/><rect x="1989.0" y="1659.8" width="29" height="29" rx="1.5"/><rect x="1998.8" y="1659.8" width="29" height="29" rx="1.5"/><rect x="2008.6" y="1660.0" width="29" height="29" rx="1.5"/><rect x="2018.4" y="1642.0" width="29" height="29" rx="1.5"/><rect x="2028.2" y="1666.6" width="29" height="29" rx="1.5"/><rect x="2038.0" y="1642.0" width="29" height="29" rx="1.5"/><rect x="2047.8" y="1635.1" width="29" height="29" rx="1.5"/><rect x="2057.6" y="1642.0" width="29" height="29" rx="1.5"/><rect x="2067.4" y="1642.0" width="29" height="29" rx="1.5"/><rect x="2077.2" y="1621.0" width="29" height="29" rx="1.5"/><rect x="2087.0" y="1635.2" width="29" height="29" rx="1.5"/><rect x="2096.8" y="1621.0" width="29" height="29" rx="1.5"/><rect x="2106.5" y="1621.0" width="29" height="29" rx="1.5"/><rect x="2116.3" y="1635.1" width="29" height="29" rx="1.5"/><rect x="2126.1" y="1635.1" width="29" height="29" rx="1.5"/><rect x="2135.9" y="1648.5" width="29" height="29" rx="1.5"/><rect x="2145.7" y="1635.2" width="29" height="29" rx="1.5"/><rect x="2155.5" y="1621.0" width="29" height="29" rx="1.5"/><rect x="2165.3" y="1635.1" width="29" height="29" rx="1.5"/><rect x="2175.1" y="1648.5" width="29" height="29" rx="1.5"/></g>
<g style="font-family:'Liberation Sans',Arial,sans-serif" font-size="59.5" fill="#000" text-anchor="end">
<text x="188.8" y="1711.0">0,0</text>
<text x="188.8" y="1437.0">0,5</text>
<text x="188.8" y="1160.0">1,0</text>
<text x="188.8" y="887.0">1,5</text>
<text x="188.8" y="613.5">2,0</text>
<text x="188.8" y="336.0">2,5</text>
<text x="188.8" y="63.0">3,0</text>
</g>
<g style="font-family:'Liberation Sans',Arial,sans-serif" font-size="59.5" fill="#000" text-anchor="middle">
<text x="232.5" y="1799" textLength="86.7" lengthAdjust="spacingAndGlyphs">-10</text>
<text x="430.5" y="1799" textLength="55.9" lengthAdjust="spacingAndGlyphs">-8</text>
<text x="626.3" y="1799" textLength="55.9" lengthAdjust="spacingAndGlyphs">-6</text>
<text x="823.0" y="1799" textLength="55.9" lengthAdjust="spacingAndGlyphs">-4</text>
<text x="1018.9" y="1799" textLength="55.9" lengthAdjust="spacingAndGlyphs">-2</text>
<text x="1215.5" y="1799" textLength="33.2" lengthAdjust="spacingAndGlyphs">0</text>
<text x="1408.5" y="1799" textLength="33.2" lengthAdjust="spacingAndGlyphs">2</text>
<text x="1604.5" y="1799" textLength="33.2" lengthAdjust="spacingAndGlyphs">4</text>
<text x="1801.0" y="1799" textLength="33.2" lengthAdjust="spacingAndGlyphs">6</text>
<text x="1996.9" y="1799" textLength="33.2" lengthAdjust="spacingAndGlyphs">8</text>
<text x="2193.3" y="1799" textLength="62.8" lengthAdjust="spacingAndGlyphs">10</text>
</g>
<text style="font-family:'Liberation Sans',Arial,sans-serif" font-size="57" x="1211" y="1894" text-anchor="middle" textLength="571.5" lengthAdjust="spacingAndGlyphs">Angular scan (degrees)</text>
<text style="font-family:'Liberation Sans',Arial,sans-serif" font-size="61.5" transform="translate(59,867.5) rotate(-90)" text-anchor="middle" textLength="191.5" lengthAdjust="spacingAndGlyphs">DE (%)</text>
<g style="font-family:'Liberation Sans',Arial,sans-serif" font-size="56.5" fill="#000">
<text x="1686.3" y="288.9" textLength="266" lengthAdjust="spacingAndGlyphs">0,196 ppm</text>
<text x="1686.3" y="372.7" textLength="266" lengthAdjust="spacingAndGlyphs">0,385 ppm</text>
<text x="1686.3" y="456.6" textLength="266" lengthAdjust="spacingAndGlyphs">1,961 ppm</text>
</g>
<g fill="#FF6600"><path d="M1653.5 256.9H1656.3L1670.9 284.2V288.9H1638.9V284.2Z"/></g>
<g fill="none" stroke="#0066FF" stroke-width="4.7"><circle cx="1653.4" cy="355.6" r="12.2"/></g>
<g fill="#008000"><rect x="1638.9" y="425.0" width="29" height="29" rx="1.5"/></g>
</svg>
</body></html>
